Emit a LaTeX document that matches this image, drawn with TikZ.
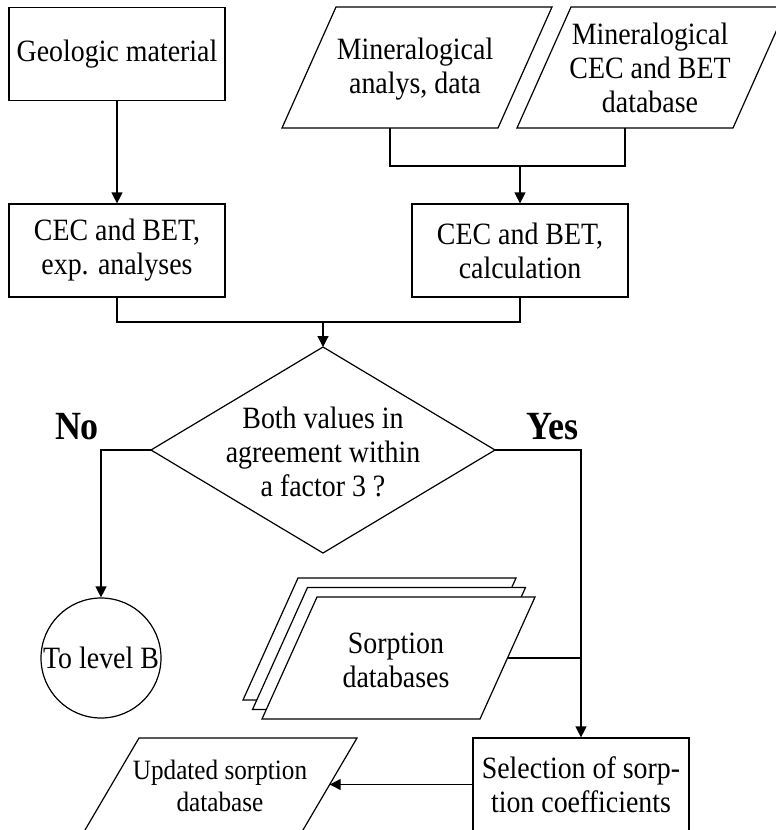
\documentclass[tikz,border=0pt]{standalone}
\usepackage{fontspec}
\setmainfont{Liberation Serif}[FakeStretch=0.9]
\usetikzlibrary{arrows.meta,calc}
\begin{document}
\begin{tikzpicture}[x=1pt,y=-1pt,line width=1.2pt,
  every node/.style={font=\fontsize{31}{34}\selectfont,align=center},
  box/.style={draw,rectangle,minimum width=216pt,minimum height=93pt,inner sep=0pt},
  txt/.style={inner sep=0pt},
  small/.style={inner sep=0pt,font=\fontsize{28}{32}\selectfont},
  answer/.style={inner sep=0pt,font=\fontsize{40}{40}\selectfont\bfseries},
  endpoint/.style={draw,circle,minimum size=120pt,inner sep=0pt},
  flow/.style={-{Triangle[length=11pt,width=11pt]}},
  sheet/.style={draw,fill=white}]
\useasboundingbox (0,0) rectangle (776,830);

% inputs
\node[box] (geo) at (117,54) {Geologic material};

\node[txt] (p1) at (415,69) {Mineralogical\\analys, data};
\draw (390,67.5) ++(-108,60.5) -- ++(54,-121) -- ++(216,0) -- ++(-54,121) -- cycle;
\coordinate (p1b) at (390,128);

\node[txt] (p2) at (650,68) {Mineralogical\\CEC and BET\\database};
\draw (625,67.5) ++(-108,60.5) -- ++(54,-121) -- ++(216,0) -- ++(-54,121) -- cycle;
\coordinate (p2b) at (625,128);

% CEC / BET determination
\node[box] (c1) at (117,250.5) {CEC and BET,\\exp. analyses};
\node[box] (c2) at (520,250.5) {CEC and BET,\\calculation};

% decision
\node[txt] (q) at (323,452) {Both values in\\agreement within\\a factor 3 ?};
\coordinate (qt) at (323,347);
\coordinate (qr) at (495,450);
\coordinate (qb) at (323,553);
\coordinate (ql) at (151,450);
\draw (qt) -- (qr) -- (qb) -- (ql) -- cycle;

\node[answer] (no) at (77,427) {No};
\node[answer] (yes) at (552,427) {Yes};

% outcomes
\node[endpoint] (lvl) at (101,658) {To level B};

\draw[sheet] (379.5,639) ++(-136.5,61) -- ++(55,-122) -- ++(218,0) -- ++(-55,122) -- cycle;
\draw[sheet] (389,648.5) ++(-136.5,61) -- ++(55,-122) -- ++(218,0) -- ++(-55,122) -- cycle;
\draw[sheet] (398.5,658) ++(-136.5,61) -- ++(55,-122) -- ++(218,0) -- ++(-55,122) -- cycle;
\node[txt] (sdb) at (396,660) {Sorption\\databases};
\coordinate (sfr) at (507.5,658);

\node[box] (sel) at (581,784.5) {Selection of sorp-\\tion coefficients};

\draw (220.7,784.5) ++(-136.3,46.5) -- ++(54.6,-93) -- ++(218,0) -- ++(-54.6,93) -- cycle;
\node[small] (upd) at (220,786) {Updated sorption\\database};
\coordinate (updr) at (329.7,784.5);

% connectors
\draw (p1b) |- (520,166) coordinate (j1) -| (p2b);
\draw[flow] (j1) -- (c2.north);
\draw[flow] (geo.south) -- (c1.north);
\draw (c1.south) |- (323,322) coordinate (j2) -| (c2.south);
\draw[flow] (j2) -- (qt);
\draw[flow] (ql) -| (lvl.north);
\draw[flow] (qr) -| (sel.north);
\draw (sfr) -- (sfr -| sel.north);
\draw[flow] (sel.west) -- (updr);
\end{tikzpicture}
\end{document}
